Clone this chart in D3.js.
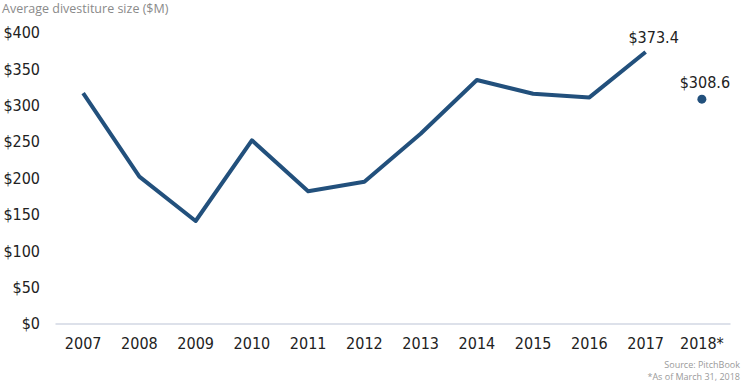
<!DOCTYPE html>
<html>
<head>
<meta charset="utf-8">
<script src="https://cdn.jsdelivr.net/npm/d3@7"></script>
<style>
  body { margin: 0; background: #fff; }
  svg { display: block; }
</style>
</head>
<body>
<div id="chart"></div>
<script>
var years = ['2007', '2008', '2009', '2010', '2011', '2012', '2013', '2014', '2015', '2016', '2017', '2018*'];
var lineValues = [317, 202, 141, 252, 182, 195, 261, 335, 316, 311, 373.4];
var pointYear = '2018*';
var pointValue = 308.6;
var yTicks = [0, 50, 100, 150, 200, 250, 300, 350, 400];

var svg = d3.select('#chart').append('svg')
  .attr('width', 744)
  .attr('height', 383);

var margin = { top: 32.7, right: 14, bottom: 59.5, left: 55 };
var width = 744 - margin.left - margin.right;
var height = 383 - margin.top - margin.bottom;

var tickFont = '"Liberation Sans Narrow", "DejaVu Sans Condensed", sans-serif';

var g = svg.append('g')
  .attr('transform', 'translate(' + margin.left + ',' + margin.top + ')');

var x = d3.scaleBand().domain(years).range([0, width]);
var y = d3.scaleLinear().domain([0, 400]).range([height, 0]);

// title
svg.append('text')
  .attr('x', 2)
  .attr('y', 13)
  .attr('fill', '#8a8a8a')
  .attr('font-family', '"Open Sans", sans-serif')
  .attr('font-size', 12.5)
  .text('Average divestiture size ($M)');

// y axis labels
g.append('g')
  .selectAll('text')
  .data(yTicks)
  .enter().append('text')
    .attr('x', 40 - margin.left)
    .attr('y', function(d) { return y(d); })
    .attr('dy', '0.36em')
    .attr('text-anchor', 'end')
    .attr('font-family', tickFont)
    .attr('font-size', 16)
    .attr('fill', '#222')
    .text(function(d) { return '$' + d; });

// x axis
var xAxis = g.append('g')
  .attr('transform', 'translate(0,' + height + ')')
  .call(d3.axisBottom(x).tickSize(0).tickPadding(14));
xAxis.select('.domain')
  .attr('stroke', '#dde1ea')
  .attr('stroke-width', 2);
xAxis.selectAll('text')
  .attr('font-family', tickFont)
  .attr('font-size', 16)
  .attr('fill', '#222');

// line
var line = d3.line()
  .x(function(d, i) { return x(years[i]) + x.bandwidth() / 2; })
  .y(function(d) { return y(d); });

g.append('path')
  .datum(lineValues)
  .attr('fill', 'none')
  .attr('stroke', '#22507c')
  .attr('stroke-width', 4)
  .attr('stroke-linejoin', 'round')
  .attr('d', line);

// 2018 point
var px = x(pointYear) + x.bandwidth() / 2;
g.append('circle')
  .attr('cx', px)
  .attr('cy', y(pointValue))
  .attr('r', 4.5)
  .attr('fill', '#22507c');

// value labels
var lastIdx = lineValues.length - 1;
g.append('text')
  .attr('x', x(years[lastIdx]) + x.bandwidth() / 2 + 8)
  .attr('y', y(lineValues[lastIdx]) - 9)
  .attr('text-anchor', 'middle')
  .attr('font-family', tickFont)
  .attr('font-size', 16)
  .attr('fill', '#222')
  .text('$' + lineValues[lastIdx].toFixed(1));

g.append('text')
  .attr('x', px + 3)
  .attr('y', y(pointValue) - 11)
  .attr('text-anchor', 'middle')
  .attr('font-family', tickFont)
  .attr('font-size', 16)
  .attr('fill', '#222')
  .text('$' + pointValue.toFixed(1));

// source notes
svg.append('text')
  .attr('x', 740)
  .attr('y', 368)
  .attr('text-anchor', 'end')
  .attr('font-family', '"Open Sans", sans-serif')
  .attr('font-size', 9)
  .attr('fill', '#9a9a9a')
  .text('Source: PitchBook');

svg.append('text')
  .attr('x', 740)
  .attr('y', 380)
  .attr('text-anchor', 'end')
  .attr('font-family', '"Open Sans", sans-serif')
  .attr('font-size', 9)
  .attr('fill', '#9a9a9a')
  .text('*As of March 31, 2018');
</script>
</body>
</html>
